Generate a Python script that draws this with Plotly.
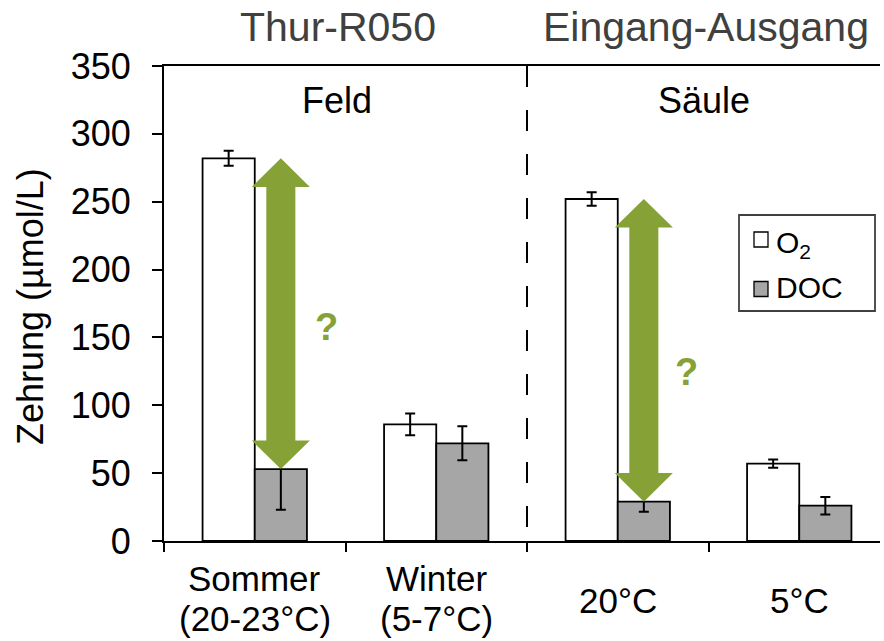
import plotly.graph_objects as go

# ---- data ----
categories = ["Sommer", "Winter", "20°C", "5°C"]
cat_line1 = ["Sommer", "Winter", "20°C", "5°C"]
cat_line2 = ["(20-23°C)", "(5-7°C)", "", ""]
o2_values = [282, 86, 252, 57]
o2_errors = [5.5, 8, 5, 3]
doc_values = [53, 72, 29, 26]
doc_errors = [30, 12.5, 7.5, 6.5]
series_names = ["O<sub>2</sub>", "DOC"]
y_ticks = [0, 50, 100, 150, 200, 250, 300, 350]
group_titles = ["Thur-R050", "Eingang-Ausgang"]
group_subtitles = ["Feld", "Säule"]
arrow_groups = [0, 2]

# ---- style ----
FONT = "Liberation Sans, Arial, sans-serif"
GREEN = "#86A136"
GRAY = "#A6A6A6"
W, H = 884, 641
ML, MR, MT, MB = 164, 4, 66, 100
PW = W - ML - MR
PH = H - MT - MB
CAT_PX = 181.5
X_MAX = -0.5 + PW / CAT_PX
Y_MAX = 350
BARGAP = 0.425
OFF = (1 - BARGAP) / 4


def px_to_paper_x(px):
    return (px - ML) / PW


def px_to_paper_y(py):
    return (H - MB - py) / PH


xs = list(range(len(categories)))

fig = go.Figure()
fig.add_trace(go.Bar(
    x=xs, y=o2_values, name=series_names[0],
    marker=dict(color="white", line=dict(color="black", width=1.8)),
    error_y=dict(type="data", array=o2_errors, color="black", thickness=2, width=5),
    showlegend=False,
))
fig.add_trace(go.Bar(
    x=xs, y=doc_values, name=series_names[1],
    marker=dict(color=GRAY, line=dict(color="black", width=1.8)),
    error_y=dict(type="data", array=doc_errors, color="black", thickness=2, width=5),
    showlegend=False,
))

shapes = []
# dashed separator between the two groups
shapes.append(dict(type="line", xref="x", yref="y", x0=1.5, x1=1.5, y0=Y_MAX, y1=0,
                   line=dict(color="black", width=2, dash="21px,23px"), layer="above"))

# double arrows from O2 level down to DOC level
HW, SW = 0.16, 0.08
HH = 28.6 * Y_MAX / PH
for i in arrow_groups:
    xc = i + OFF
    top = o2_values[i]
    bot = doc_values[i]
    path = (f"M {xc},{top} L {xc+HW},{top-HH} L {xc+SW},{top-HH} L {xc+SW},{bot+HH} "
            f"L {xc+HW},{bot+HH} L {xc},{bot} L {xc-HW},{bot+HH} L {xc-SW},{bot+HH} "
            f"L {xc-SW},{top-HH} L {xc-HW},{top-HH} Z")
    shapes.append(dict(type="path", xref="x", yref="y", path=path,
                       fillcolor=GREEN, line=dict(width=0), layer="above"))

# manual legend
shapes.append(dict(type="rect", xref="paper", yref="paper",
                   x0=px_to_paper_x(739), x1=px_to_paper_x(875),
                   y0=px_to_paper_y(311), y1=px_to_paper_y(215),
                   line=dict(color="#404040", width=1.8), fillcolor="white", layer="above"))
legend_fills = ["white", GRAY]
legend_cy = [239.5, 289]
for fill, cy in zip(legend_fills, legend_cy):
    shapes.append(dict(type="rect", xref="paper", yref="paper",
                       x0=px_to_paper_x(754), x1=px_to_paper_x(768),
                       y0=px_to_paper_y(cy + 7.5), y1=px_to_paper_y(cy - 7.5),
                       line=dict(color="black", width=1.3), fillcolor=fill, layer="above"))

annotations = []
legend_text_cy = [244, 287]
for name, cy in zip(series_names, legend_text_cy):
    annotations.append(dict(xref="paper", yref="paper", x=px_to_paper_x(774), y=px_to_paper_y(cy),
                            xanchor="left", yanchor="middle", text=name, showarrow=False,
                            font=dict(family=FONT, size=30, color="black")))

# question marks
qmark_pos = [(0.398, 158), (2.38, 124.5)]
for (qx, qy) in qmark_pos:
    annotations.append(dict(xref="x", yref="y", x=qx, y=qy, text="<b>?</b>", showarrow=False,
                            xanchor="center", yanchor="middle",
                            font=dict(family=FONT, size=38, color=GREEN)))

# group titles
for t, px in zip(group_titles, [337.5, 705.8]):
    annotations.append(dict(xref="paper", yref="paper", x=px_to_paper_x(px), y=px_to_paper_y(27),
                            xanchor="center", yanchor="middle", text=t, showarrow=False,
                            font=dict(family=FONT, size=41, color="#404040")))
for t, px in zip(group_subtitles, [336.7, 704.2]):
    annotations.append(dict(xref="paper", yref="paper", x=px_to_paper_x(px), y=px_to_paper_y(100),
                            xanchor="center", yanchor="middle", text=t, showarrow=False,
                            font=dict(family=FONT, size=36, color="black")))

# category labels
for i, (l1, l2) in enumerate(zip(cat_line1, cat_line2)):
    if l2:
        annotations.append(dict(xref="x", yref="paper", x=i, y=px_to_paper_y(578), text=l1,
                                showarrow=False, xanchor="center", yanchor="middle",
                                font=dict(family=FONT, size=35, color="black")))
        annotations.append(dict(xref="x", yref="paper", x=i, y=px_to_paper_y(618), text=l2,
                                showarrow=False, xanchor="center", yanchor="middle",
                                font=dict(family=FONT, size=35, color="black")))
    else:
        annotations.append(dict(xref="x", yref="paper", x=i, y=px_to_paper_y(600), text=l1,
                                showarrow=False, xanchor="center", yanchor="middle",
                                font=dict(family=FONT, size=35, color="black")))

# y-axis title
annotations.append(dict(xref="paper", yref="paper", x=px_to_paper_x(30), y=px_to_paper_y(307),
                        text="Zehrung (µmol/L)", textangle=-90, showarrow=False,
                        xanchor="center", yanchor="middle",
                        font=dict(family=FONT, size=36, color="black")))

fig.update_layout(
    width=W, height=H,
    margin=dict(l=ML, r=MR, t=MT, b=MB, autoexpand=False),
    paper_bgcolor="white", plot_bgcolor="white",
    barmode="group", bargap=BARGAP, bargroupgap=0,
    showlegend=False,
    shapes=shapes, annotations=annotations,
    xaxis=dict(range=[-0.5, X_MAX], tickmode="array", tickvals=[-0.5, 0.5, 1.5, 2.5],
               showticklabels=False, ticks="outside", ticklen=9, tickwidth=2, tickcolor="black",
               showline=True, linecolor="black", linewidth=2, mirror=True,
               showgrid=False, zeroline=False, fixedrange=True),
    yaxis=dict(range=[0, Y_MAX], tickmode="array", tickvals=y_ticks,
               ticks="outside", ticklen=10, tickwidth=2, tickcolor="black",
               tickfont=dict(family=FONT, size=36, color="black"), ticklabelstandoff=14,
               showline=True, linecolor="black", linewidth=2,
               showgrid=False, zeroline=False, fixedrange=True),
    font=dict(family=FONT),
)

fig.write_html("out.html")
